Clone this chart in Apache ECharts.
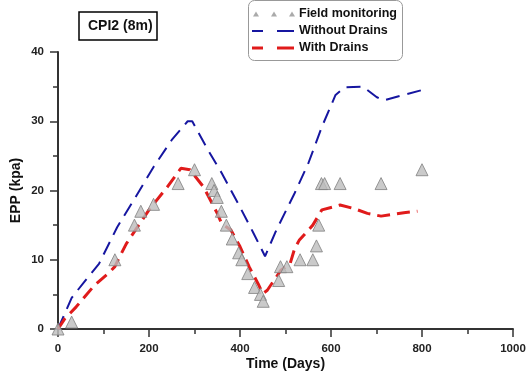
<!DOCTYPE html>
<html>
<head>
<meta charset="utf-8">
<script src="https://cdn.jsdelivr.net/npm/echarts@6/dist/echarts.min.js"></script>
<style>
  html, body { margin: 0; padding: 0; background: #fff; }
  #echarts { width: 529px; height: 372px; }
</style>
</head>
<body>
<div id="echarts"></div>
<script>
// field monitoring [day, EPP]
const fieldDays = [0, 30, 125, 168, 182, 210, 264, 300, 338, 343, 350, 359, 370, 383, 397, 404, 417, 432, 445, 451, 485, 489, 503, 532, 560, 568, 573, 579, 586, 620, 710, 800];
const fieldEpp = [0, 1, 10, 15, 17, 18, 21, 23, 21, 20, 19, 17, 15, 13, 11, 10, 8, 6, 5, 4, 7, 9, 9, 10, 10, 12, 15, 21, 21, 21, 21, 23];

const noDrainDays = [0, 30, 60, 90, 130, 170, 210, 250, 285, 295, 330, 360, 400, 430, 455, 480, 520, 550, 580, 610, 630, 670, 700, 715, 760, 800, 810];
const noDrainEpp = [0, 4.5, 7, 9.4, 14.7, 19, 23.4, 27.3, 30, 30, 25.8, 22.5, 17.6, 13.8, 10.5, 14.3, 19.6, 23.9, 29.2, 33.8, 34.9, 35, 33.5, 33, 33.8, 34.5, 35.2];

const drainDays = [0, 15, 40, 80, 110, 125, 130, 150, 200, 240, 270, 290, 320, 350, 360, 380, 400, 420, 440, 450, 460, 490, 510, 520, 530, 560, 580, 620, 650, 680, 710, 760, 790];
const drainEpp = [0, 1.5, 3.2, 6.3, 8, 9, 9.7, 12.3, 17.2, 20.5, 23.2, 23, 20.5, 16.7, 15.2, 14.3, 11.9, 9, 6.5, 5.1, 5.6, 8.5, 9.4, 11.6, 12.8, 15, 17.2, 17.9, 17.4, 16.7, 16.3, 16.8, 17];

const xTicks = [0, 200, 400, 600, 800, 1000];
const yTicks = [0, 10, 20, 30, 40];
const legendNames = ['Field monitoring', 'Without Drains', 'With Drains'];

const blue = '#1616a0';
const red = '#e01b1b';
const grey = '#bdbdbd';
const pairs = (xs, ys) => xs.map((x, i) => [x, ys[i]]);
const fontFamily = 'Liberation Sans, Arial, sans-serif';

// hand-drawn legend box (triangles / dashes like the original figure)
function legendGraphic() {
  const rowY = [14, 31, 48];
  const els = [{
    type: 'rect',
    shape: { x: 248.5, y: 0.5, width: 154, height: 60, r: 6 },
    style: { fill: '#fff', stroke: '#999', lineWidth: 1 }
  }];
  legendNames.forEach((name, i) => {
    els.push({
      type: 'text',
      x: 299, y: rowY[i],
      style: { text: name, font: 'bold 12.5px ' + fontFamily, fill: '#111', verticalAlign: 'middle' }
    });
  });
  [256, 274, 292].forEach(cx => {
    els.push({
      type: 'polygon',
      shape: { points: [[cx - 3, rowY[0] + 2.5], [cx, rowY[0] - 2.5], [cx + 3, rowY[0] + 2.5]] },
      style: { fill: '#aaa' }
    });
  });
  [[blue, 2, rowY[1]], [red, 3, rowY[2]]].forEach(([c, w, y]) => {
    els.push({ type: 'line', shape: { x1: 252, y1: y, x2: 263, y2: y }, style: { stroke: c, lineWidth: w } });
    els.push({ type: 'line', shape: { x1: 277, y1: y, x2: 294, y2: y }, style: { stroke: c, lineWidth: w } });
  });
  return els;
}

const axisCommon = {
  nameLocation: 'middle',
  nameMoveOverlap: false,
  nameTextStyle: { fontSize: 14, fontWeight: 'bold', color: '#111' },
  axisLine: { show: true, lineStyle: { color: '#333', width: 2 } },
  axisTick: { show: true, length: 8, lineStyle: { color: '#333', width: 1.5 } },
  minorTick: { show: true, splitNumber: 2, length: 5, lineStyle: { color: '#333', width: 1.5 } },
  splitLine: { show: false }
};

const chart = echarts.init(document.getElementById('echarts'));
chart.setOption({
  animation: false,
  textStyle: { fontFamily: fontFamily },
  title: {
    text: 'CPI2 (8m)',
    left: 79,
    top: 12,
    padding: [6, 5, 5, 9],
    borderColor: '#000',
    borderWidth: 1.5,
    textStyle: { fontSize: 14, lineHeight: 17, fontWeight: 'bold', color: '#111', fontFamily: fontFamily }
  },
  graphic: legendGraphic(),
  grid: { left: 58, right: 16, top: 52, bottom: 43, containLabel: false, outerBoundsMode: 'none' },
  xAxis: Object.assign({}, axisCommon, {
    type: 'value',
    min: 0,
    max: 1000,
    interval: 200,
    name: 'Time (Days)',
    nameGap: 28,
    axisLabel: {
      fontSize: 11.5, fontWeight: 'bold', color: '#222', margin: 14,
      formatter: v => xTicks.includes(v) ? String(v) : ''
    }
  }),
  yAxis: Object.assign({}, axisCommon, {
    type: 'value',
    min: 0,
    max: 40,
    interval: 10,
    name: 'EPP (kpa)',
    nameGap: 35,
    axisLabel: {
      fontSize: 11.5, fontWeight: 'bold', color: '#222', margin: 14,
      formatter: v => yTicks.includes(v) ? String(v) : ''
    }
  }),
  series: [
    {
      name: legendNames[0],
      type: 'scatter',
      symbol: 'triangle',
      symbolSize: 12,
      itemStyle: { color: grey, borderColor: '#808080', borderWidth: 1 },
      data: pairs(fieldDays, fieldEpp),
      z: 3
    },
    {
      name: legendNames[1],
      type: 'line',
      symbol: 'none',
      lineStyle: { color: blue, width: 2, type: [14, 8] },
      data: pairs(noDrainDays, noDrainEpp),
      z: 2
    },
    {
      name: legendNames[2],
      type: 'line',
      symbol: 'none',
      lineStyle: { color: red, width: 3, type: [13, 7] },
      data: pairs(drainDays, drainEpp),
      z: 2
    }
  ]
});
</script>
</body>
</html>
